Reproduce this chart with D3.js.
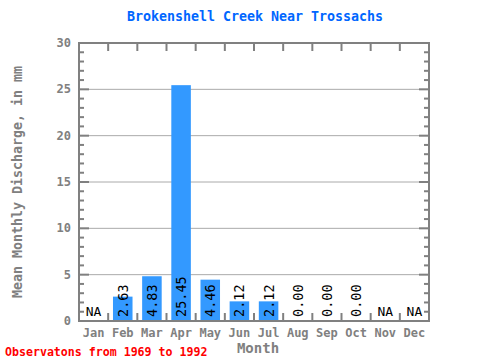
<!DOCTYPE html>
<html><head><meta charset="utf-8">
<script src="https://cdn.jsdelivr.net/npm/d3@7"></script>
<style>body{margin:0;background:#fff}svg{display:block}</style>
</head><body>
<script>
const months = ["Jan","Feb","Mar","Apr","May","Jun","Jul","Aug","Sep","Oct","Nov","Dec"];
const values = [null,2.63,4.83,25.45,4.46,2.12,2.12,0.00,0.00,0.00,null,null];
const yTicks = [0,5,10,15,20,25,30];
const title = "Brokenshell Creek Near Trossachs";
const yLabel = "Mean Monthly Discharge, in mm";
const xLabel = "Month";
const note = "Observatons from 1969 to 1992";

const W=480,H=360, L=79, R=429, T=43, B=321;
const svg=d3.select("body").append("svg").attr("width",W).attr("height",H);
const font="'DejaVu Sans Mono', 'Liberation Mono', monospace";
const x=d3.scaleBand().domain(months).range([L,R]).paddingInner(0.33).paddingOuter(0.165);
const xb=d3.scaleBand().domain(months).range([L,R]);
const y=d3.scaleLinear().domain([0,30]).range([B,T]);
const gray="#808080";

svg.append("g").selectAll("line").data(yTicks.filter(d=>d>0&&d<30)).join("line")
 .attr("x1",L).attr("x2",R).attr("y1",d=>y(d)).attr("y2",d=>y(d))
 .attr("stroke","#aaa").attr("stroke-width",1);

svg.append("g").selectAll("rect").data(months.map((m,i)=>({m,v:values[i]})).filter(d=>d.v!==null&&d.v>0)).join("rect")
 .attr("x",d=>x(d.m)).attr("width",x.bandwidth()).attr("y",d=>y(d.v)).attr("height",d=>y(0)-y(d.v))
 .attr("fill","#3399ff");

const minor=d3.range(0,31);
svg.append("g").selectAll("line").data(minor).join("line")
 .attr("x1",L).attr("x2",d=>L+(d%5===0?10:5)).attr("y1",d=>y(d)).attr("y2",d=>y(d))
 .attr("stroke",gray).attr("stroke-width",2);
svg.append("g").selectAll("line").data(minor).join("line")
 .attr("x1",R).attr("x2",d=>R-(d%5===0?10:5)).attr("y1",d=>y(d)).attr("y2",d=>y(d))
 .attr("stroke",gray).attr("stroke-width",2);
const bounds=months.slice(1).map(m=>xb(m));
svg.append("g").selectAll("line").data(bounds).join("line")
 .attr("x1",d=>d).attr("x2",d=>d).attr("y1",T).attr("y2",T+8).attr("stroke",gray).attr("stroke-width",2);
svg.append("g").selectAll("line").data(bounds).join("line")
 .attr("x1",d=>d).attr("x2",d=>d).attr("y1",B).attr("y2",B-8).attr("stroke",gray).attr("stroke-width",2);

svg.append("rect").attr("x",L).attr("y",T).attr("width",R-L).attr("height",B-T)
 .attr("fill","none").attr("stroke",gray).attr("stroke-width",2);

svg.append("g").selectAll("text").data(yTicks).join("text")
 .attr("x",L-8).attr("y",d=>y(d)+4).attr("text-anchor","end")
 .attr("font-family",font).attr("font-weight","bold").attr("font-size",12).attr("fill",gray).text(d=>d);
svg.append("g").selectAll("text").data(months).join("text")
 .attr("x",d=>xb(d)+xb.bandwidth()/2).attr("y",337).attr("text-anchor","middle")
 .attr("font-family",font).attr("font-weight","bold").attr("font-size",12).attr("fill",gray).text(d=>d);

months.forEach((m,i)=>{
  const cx=xb(m)+xb.bandwidth()/2;
  if(values[i]===null){
    svg.append("text").attr("x",cx).attr("y",B-5).attr("text-anchor","middle")
     .attr("font-family",font).attr("font-size",13).attr("fill","#000").text("NA");
  } else {
    svg.append("text").attr("transform",`translate(${cx+5},${B-4}) rotate(-90)`)
     .attr("text-anchor","start")
     .attr("font-family",font).attr("font-size",13.5).attr("fill","#000").text(values[i].toFixed(2));
  }
});

svg.append("text").attr("x",255).attr("y",21).attr("text-anchor","middle")
 .attr("font-family",font).attr("font-weight","bold").attr("font-size",13.3).attr("fill","#0066ff").text(title);
svg.append("text").attr("transform",`translate(22,${(T+B)/2}) rotate(-90)`).attr("text-anchor","middle")
 .attr("font-family",font).attr("font-weight","bold").attr("font-size",13.3).attr("fill",gray).text(yLabel);
svg.append("text").attr("x",258).attr("y",353).attr("text-anchor","middle")
 .attr("font-family",font).attr("font-weight","bold").attr("font-size",14).attr("fill",gray).text(xLabel);
svg.append("text").attr("x",5).attr("y",356)
 .attr("font-family",font).attr("font-weight","bold").attr("font-size",11.6).attr("fill","#ff0000").text(note);
</script>
</body></html>
